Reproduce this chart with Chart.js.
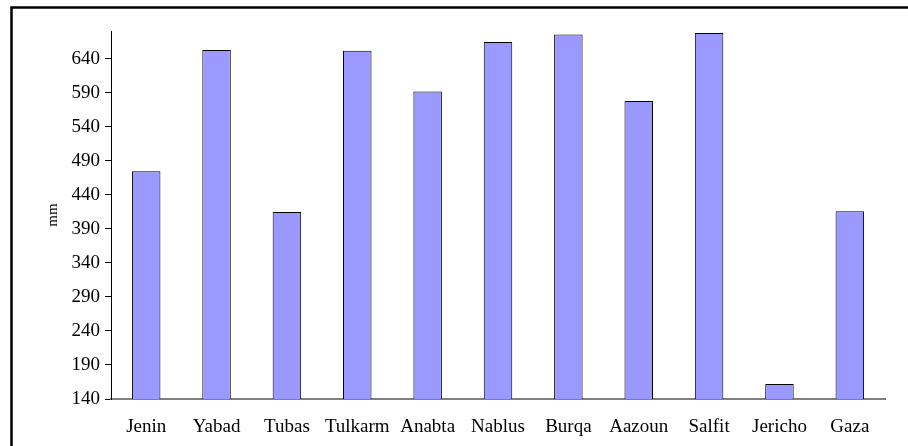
<!DOCTYPE html>
<html>
<head>
<meta charset="utf-8">
<script src="https://cdn.jsdelivr.net/npm/chart.js@4"></script>
<style>
  html, body { margin: 0; padding: 0; background: #fff; }
  #wrap { width: 908px; height: 446px; position: relative; }
</style>
</head>
<body>
<div id="wrap"><canvas id="c" width="908" height="446"></canvas></div>
<script>
const categories = ['Jenin', 'Yabad', 'Tubas', 'Tulkarm', 'Anabta', 'Nablus', 'Burqa', 'Aazoun', 'Salfit', 'Jericho', 'Gaza'];
const rainfall = [475, 653, 415, 652, 592, 665, 676, 578, 678, 162, 416];
const yTickValues = [140, 190, 240, 290, 340, 390, 440, 490, 540, 590, 640];
const yMin = 140;
const yMax = 681;
const yTitle = 'mm';

const frame = {
  id: 'frame',
  afterDraw(chart) {
    const ctx = chart.ctx;
    ctx.save();
    ctx.strokeStyle = '#000';
    ctx.lineWidth = 2.5;
    ctx.beginPath();
    ctx.moveTo(11.5, 446);
    ctx.lineTo(11.5, 7.5);
    ctx.lineTo(908, 7.5);
    ctx.stroke();
    ctx.restore();
  }
};

new Chart(document.getElementById('c'), {
  type: 'bar',
  data: {
    labels: categories,
    datasets: [{
      data: rainfall,
      backgroundColor: '#9999FF',
      borderColor: '#000',
      borderWidth: 1,
      barPercentage: 0.405,
      categoryPercentage: 1
    }]
  },
  options: {
    responsive: false,
    animation: false,
    layout: { padding: { left: 0, right: 23, top: 31, bottom: 0 } },
    plugins: { legend: { display: false }, tooltip: { enabled: false }, title: { display: false } },
    scales: {
      x: {
        grid: { display: false, drawTicks: false },
        border: { display: true, color: '#808080', width: 2 },
        ticks: { color: '#000', padding: 17, maxRotation: 0, autoSkip: false,
                 font: { family: '"Liberation Serif", "Times New Roman", serif', size: 19 } },
        afterFit(scale) { scale.height = 47; }
      },
      y: {
        min: yMin,
        max: yMax,
        grid: { display: true, drawOnChartArea: false, drawTicks: true, tickLength: 6, color: '#000' },
        border: { display: true, color: '#000', width: 1 },
        ticks: { color: '#000', padding: 5,
                 font: { family: '"Liberation Serif", "Times New Roman", serif', size: 19 } },
        afterBuildTicks(scale) {
          scale.ticks = yTickValues.map(v => ({ value: v }));
        },
        title: { display: true, text: yTitle, color: '#000', padding: { top: 44, bottom: 0 },
                 font: { family: '"Liberation Serif", "Times New Roman", serif', size: 15 } },
        afterFit(scale) { scale.width = 111; }
      }
    }
  },
  plugins: [frame]
});
</script>
</body>
</html>
